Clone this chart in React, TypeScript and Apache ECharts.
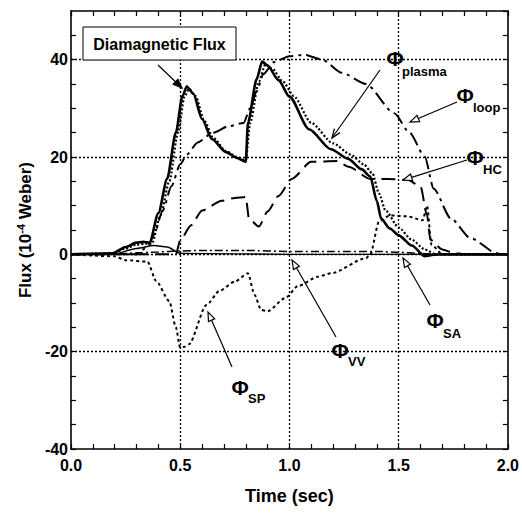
import React, { useEffect, useRef } from "react";
import * as echarts from "echarts";

// ---- data (time in sec, flux in 1e-4 Weber) ----
const diaT = [0, 0.19, 0.25, 0.3, 0.33, 0.36, 0.4, 0.44, 0.48, 0.51, 0.53, 0.56, 0.6, 0.645, 0.71, 0.76, 0.8, 0.81, 0.85, 0.875, 0.9, 0.95, 1.0, 1.09, 1.19, 1.27, 1.33, 1.37, 1.4, 1.42, 1.46, 1.5, 1.56, 1.62, 1.66, 1.71, 2.0];
const diaY = [0, 0.2, 1.5, 2.4, 2.6, 2.4, 8.5, 15.5, 25, 32.5, 34.5, 33, 27.8, 23.7, 21, 19.8, 19, 27, 36, 39.6, 38.8, 35.8, 32.4, 25.7, 21.6, 19.6, 17.5, 16, 11, 7.3, 5.3, 3.9, 1.8, -0.4, -0.1, 0, 0];

const plasmaT = [0, 0.19, 0.25, 0.3, 0.34, 0.37, 0.41, 0.45, 0.49, 0.52, 0.54, 0.57, 0.61, 0.65, 0.71, 0.76, 0.8, 0.82, 0.86, 0.89, 0.92, 0.97, 1.02, 1.1, 1.2, 1.28, 1.34, 1.38, 1.41, 1.44, 1.5, 1.56, 1.62, 1.67, 2.0];
const plasmaY = [0, 0.2, 1.2, 2, 2.2, 2.2, 8, 15, 25, 32.5, 34, 32.5, 27.5, 24, 21.2, 20, 19.3, 27, 35.5, 39, 38.2, 35.5, 32.5, 27, 22.8, 20.5, 18.5, 16.6, 12.5, 9, 5.5, 3, 1, 0, 0];

const loopT = [0, 0.3, 0.35, 0.38, 0.42, 0.46, 0.5, 0.53, 0.58, 0.65, 0.72, 0.79, 0.82, 0.85, 0.88, 0.93, 1.0, 1.07, 1.15, 1.24, 1.35, 1.48, 1.55, 1.62, 1.66, 1.74, 1.83, 1.95, 2.0];
const loopY = [0, 0, 1.5, 4, 9, 14, 18.5, 20.5, 23, 25, 26.3, 27, 30, 33.5, 37, 39.5, 40.7, 41, 40, 37.3, 35, 29, 25, 20, 13.5, 7.3, 3.3, 0.2, 0];

const hcT = [0, 0.48, 0.5, 0.55, 0.6, 0.69, 0.75, 0.8, 0.815, 0.86, 0.9, 0.95, 1.01, 1.1, 1.22, 1.27, 1.37, 1.45, 1.54, 1.6, 1.63, 1.645, 1.7, 1.75, 1.8, 2.0];
const hcY = [0, 0, 2.9, 6, 9, 11, 11.6, 11.8, 7.3, 5.7, 8.8, 12, 15.5, 19, 19.2, 18, 15.5, 15.5, 15.3, 14, 8, 3, 1, 0.3, 0, 0];

const spT = [0, 0.2, 0.25, 0.35, 0.39, 0.45, 0.48, 0.5, 0.52, 0.54, 0.62, 0.68, 0.75, 0.81, 0.84, 0.87, 0.9, 0.98, 1.04, 1.13, 1.19, 1.35, 1.37, 1.41, 1.46, 1.54, 1.61, 1.63, 1.65, 1.7, 2.0];
const spY = [0, -0.4, -1.2, -1.5, -5.5, -9.6, -15, -19.2, -19, -18.5, -10.4, -7.5, -5.6, -3.9, -8.3, -11.4, -11.7, -9, -6.5, -4.6, -3.9, -0.8, 0, 6.7, 8, 7.8, 7, 10, 2, 0, 0];

const vvT = [0, 0.2, 0.3, 0.4, 0.5, 0.6, 0.8, 1.0, 1.2, 1.4, 1.5, 1.6, 1.7, 2.0];
const vvY = [0, 0, 0.3, 0.5, 0.7, 0.8, 0.8, 0.6, 0.6, 0.6, 0.4, 0.2, 0, 0];

const saT = [0, 0.2, 0.3, 0.38, 0.44, 0.5, 1.0, 1.5, 1.6, 2.0];
const saY = [0, 0.1, 1.2, 1.8, 1.5, 0.2, 0, 0, 0, 0];

const xGridLines = [0.5, 1.0, 1.5];
const yGridLines = [-20, 0, 20, 40];
const xTickLabels = ["0.0", "0.5", "1.0", "1.5", "2.0"];
const yTickLabels = ["-40", "-20", "0", "20", "40"];

const zip = (t: number[], y: number[]) => t.map((v, i) => [v, y[i]]);

const FONT = "'Liberation Sans', Arial, Helvetica, sans-serif";

function arrow(x1: number, y1: number, x2: number, y2: number, kind: "filled" | "hollow" | "open", size = 9) {
  const a = Math.atan2(y2 - y1, x2 - x1);
  const bx = x2 - size * Math.cos(a);
  const by = y2 - size * Math.sin(a);
  const w = size * 0.38;
  const p1 = [bx - w * Math.sin(a), by + w * Math.cos(a)];
  const p2 = [bx + w * Math.sin(a), by - w * Math.cos(a)];
  const els: any[] = [];
  const endX = kind === "hollow" ? bx : x2;
  const endY = kind === "hollow" ? by : y2;
  els.push({ type: "line", shape: { x1, y1, x2: endX, y2: endY }, style: { stroke: "#000", lineWidth: 1.2 }, z: 100 });
  if (kind === "open") {
    els.push({ type: "polyline", shape: { points: [p1, [x2, y2], p2] }, style: { stroke: "#000", lineWidth: 1.3, fill: null }, z: 100 });
  } else {
    els.push({
      type: "polygon",
      shape: { points: [p1, [x2, y2], p2] },
      style: { stroke: "#000", lineWidth: 1.2, fill: kind === "filled" ? "#000" : "#fff" },
      z: 100,
    });
  }
  return els;
}

function phiLabel(px: number, py: number, sub: string, sx: number, sy: number) {
  return [
    { type: "text", x: px, y: py, style: { text: "Φ", font: `bold 21px ${FONT}`, fill: "#000", align: "center", verticalAlign: "middle" }, z: 100 },
    { type: "text", x: sx, y: sy, style: { text: sub, font: `bold 13px ${FONT}`, fill: "#000", align: "left", verticalAlign: "middle" }, z: 100 },
  ];
}

export default function App() {
  const ref = useRef<HTMLDivElement>(null);
  useEffect(() => {
    if (!ref.current) return;
    const chart = echarts.init(ref.current, null, { renderer: "svg" });
    const axisLine = { show: true, onZero: false, lineStyle: { color: "#000", width: 1.6 } };
    const axisTick = { show: true, inside: true, length: 5, lineStyle: { color: "#000", width: 1.2 } };
    const xBase = { type: "value", min: 0, max: 2, interval: 0.1, axisLine, axisTick, splitLine: { show: false } };
    const yBase = { type: "value", min: -40, max: 50, interval: 5, axisLine, axisTick, splitLine: { show: false } };
    const lineSeries = (name: string, t: number[], y: number[], width: number, type: any, z: number) => ({
      name,
      type: "line",
      data: zip(t, y),
      showSymbol: false,
      symbol: "none",
      smooth: 0.25,
      smoothMonotone: "x",
      lineStyle: { color: "#000", width, type },
      z,
      silent: true,
    });
    const graphics: any[] = [
      { type: "rect", shape: { x: 83, y: 27, width: 153, height: 33 }, style: { fill: "#fff", stroke: "#000", lineWidth: 1 }, z: 90 },
      { type: "text", x: 159.5, y: 44, style: { text: "Diamagnetic Flux", font: `bold 16px ${FONT}`, fill: "#000", align: "center", verticalAlign: "middle" }, z: 100 },
      ...arrow(158, 65, 182, 88, "filled"),
      ...phiLabel(395, 58, "plasma", 402, 71),
      ...arrow(380, 70, 332, 138, "open"),
      ...phiLabel(465, 95, "loop", 473, 107),
      ...arrow(457, 102, 410, 122, "hollow"),
      ...phiLabel(475, 157, "HC", 483, 169),
      ...arrow(467, 160, 403, 180, "hollow"),
      ...phiLabel(435, 320, "SA", 443, 333),
      ...arrow(430, 305, 403, 258, "hollow"),
      ...phiLabel(340, 350, "VV", 348, 361),
      ...arrow(336, 337, 292, 260, "hollow"),
      ...phiLabel(240, 387, "SP", 248, 398),
      ...arrow(232, 367, 208, 312, "hollow"),
    ];
    chart.setOption({
      animation: false,
      backgroundColor: "#fff",
      textStyle: { fontFamily: FONT },
      grid: { left: 71, right: 10, top: 11, bottom: 66, containLabel: false },
      xAxis: [
        {
          ...xBase,
          position: "bottom",
          name: "Time (sec)",
          nameLocation: "middle",
          nameGap: 38,
          nameTextStyle: { color: "#000", fontSize: 18, fontWeight: "bold", fontFamily: FONT },
          axisLabel: {
            color: "#000",
            fontSize: 16,
            fontWeight: "bold",
            fontFamily: FONT,
            margin: 8,
            formatter: (v: number) => {
              const s = v.toFixed(1);
              return xTickLabels.includes(s) ? s : "";
            },
          },
        },
        { ...xBase, position: "top", axisLabel: { show: false } },
      ],
      yAxis: [
        {
          ...yBase,
          position: "left",
          name: "Flux (10{sup|-4} Weber)",
          nameLocation: "middle",
          nameGap: 30,
          nameRotate: 90,
          nameTextStyle: {
            color: "#000",
            fontSize: 17,
            fontWeight: "bold",
            fontFamily: FONT,
            rich: { sup: { fontSize: 11, fontWeight: "bold", fontFamily: FONT, color: "#000", verticalAlign: "top", padding: [0, 0, 8, 0] } },
          },
          axisLabel: {
            color: "#000",
            fontSize: 16,
            fontWeight: "bold",
            fontFamily: FONT,
            margin: 3,
            showMaxLabel: false,
            formatter: (v: number) => {
              const r = Math.round(v);
              return Math.abs(v - r) < 1e-6 && yTickLabels.includes(String(r)) ? String(r) : "";
            },
          },
        },
        { ...yBase, position: "right", axisLabel: { show: false } },
      ],
      series: [
        {
          name: "grid",
          type: "line",
          data: [],
          z: 1,
          silent: true,
          markLine: {
            silent: true,
            symbol: "none",
            label: { show: false },
            lineStyle: { color: "#000", width: 1.3, type: [2, 2] },
            data: [...xGridLines.map((v) => ({ xAxis: v })), ...yGridLines.map((v) => ({ yAxis: v }))],
          },
        },
        lineSeries("SA", saT, saY, 1.4, "solid", 3),
        lineSeries("VV", vvT, vvY, 1.5, [8, 3, 2, 3], 3),
        lineSeries("SP", spT, spY, 2, [3, 3], 3),
        lineSeries("HC", hcT, hcY, 2, [14, 7], 3),
        lineSeries("loop", loopT, loopY, 2, [14, 5, 3, 5], 3),
        lineSeries("plasma", plasmaT, plasmaY, 2.2, [2, 2], 4),
        lineSeries("Diamagnetic", diaT, diaY, 2.6, "solid", 5),
      ],
      graphic: graphics,
    });
    return () => chart.dispose();
  }, []);
  return <div ref={ref} style={{ position: "absolute", left: 0, top: 0, width: 522, height: 515, background: "#fff" }} />;
}
